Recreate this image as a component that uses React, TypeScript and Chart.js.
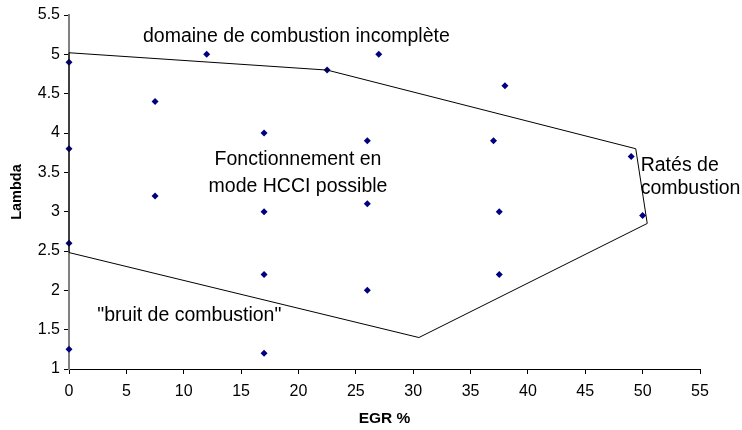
import React, { useEffect, useRef } from "react";
import { Chart, registerables } from "chart.js";

Chart.register(...registerables);

// Measured operating points
const pointsEGR = [0, 0, 0, 0, 7.5, 7.5, 12, 17, 17, 17, 17, 22.5, 26, 26, 26, 27, 37, 37.5, 37.5, 38, 49, 50];
const pointsLambda = [4.9, 3.8, 2.6, 1.25, 4.4, 3.2, 5.0, 4.0, 3.0, 2.2, 1.2, 4.8, 3.9, 3.1, 2.0, 5.0, 3.9, 3.0, 2.2, 4.6, 3.7, 2.95];

// Boundary of HCCI operating domain (closed polygon)
const boundaryEGR = [0, 22.5, 49.4, 50.4, 30.5, 0];
const boundaryLambda = [5.02, 4.8, 3.8, 2.85, 1.4, 2.48];

// Axis ticks
const xTicks = [0, 5, 10, 15, 20, 25, 30, 35, 40, 45, 50, 55];
const yTicks = [1, 1.5, 2, 2.5, 3, 3.5, 4, 4.5, 5, 5.5];

// Text annotations (anchored in data coordinates)
const noteTexts = [
  "domaine de combustion incomplète",
  "Fonctionnement en",
  "mode HCCI possible",
  "\"bruit de combustion\"",
  "Ratés de",
  "combustion",
];
const noteX = [6.45, 19.96, 19.96, 2.47, 49.83, 49.83];
const noteY = [5.22, 3.66, 3.315, 1.677, 3.58, 3.29];
const noteAlign: CanvasTextAlign[] = ["left", "center", "center", "left", "left", "left"];

const FONT = "'Liberation Sans', Arial, sans-serif";

export default function App() {
  const ref = useRef<HTMLCanvasElement | null>(null);

  useEffect(() => {
    if (!ref.current) return;
    const pts = pointsEGR.map((x, i) => ({ x, y: pointsLambda[i] }));
    const poly = boundaryEGR.map((x, i) => ({ x, y: boundaryLambda[i] }));
    poly.push({ x: boundaryEGR[0], y: boundaryLambda[0] });

    const notesPlugin = {
      id: "notes",
      afterDatasetsDraw(chart: any) {
        const ctx = chart.ctx;
        const xs = chart.scales.x;
        const ys = chart.scales.y;
        ctx.save();
        ctx.fillStyle = "#000";
        ctx.font = `19.5px ${FONT}`;
        ctx.textBaseline = "middle";
        noteTexts.forEach((t, i) => {
          ctx.textAlign = noteAlign[i];
          ctx.fillText(t, xs.getPixelForValue(noteX[i]), ys.getPixelForValue(noteY[i]));
        });
        ctx.restore();
      },
    };

    const chart = new Chart(ref.current, {
      type: "scatter",
      data: {
        datasets: [
          {
            label: "limite",
            data: poly,
            showLine: true,
            borderColor: "#000",
            borderWidth: 1,
            pointRadius: 0,
            fill: false,
            tension: 0,
            clip: false,
          },
          {
            label: "points",
            data: pts,
            pointStyle: "rectRot",
            pointRadius: 3.5,
            backgroundColor: "#000080",
            borderColor: "#000080",
            borderWidth: 0,
            clip: false,
          },
        ],
      },
      options: {
        animation: false,
        responsive: false,
        layout: { padding: { left: 6, top: 15, right: 42, bottom: 0 } },
        plugins: { legend: { display: false }, tooltip: { enabled: false } },
        scales: {
          x: {
            type: "linear",
            min: 0,
            max: 55,
            afterBuildTicks: (s: any) => {
              s.ticks = xTicks.map((v) => ({ value: v }));
            },
            afterFit: (s: any) => {
              s.height = 61;
            },
            ticks: {
              color: "#000",
              font: { family: FONT, size: 16 },
              padding: 8,
              maxRotation: 0,
              callback: (v: any) => String(v),
            },
            grid: {
              display: true,
              drawOnChartArea: false,
              drawTicks: true,
              tickLength: 5,
              color: "#000",
            },
            border: { display: true, color: "#000", width: 1 },
            title: {
              display: true,
              text: "EGR %",
              color: "#000",
              font: { family: FONT, size: 15.5, weight: "bold" },
              padding: { top: 0, bottom: 2 },
            },
          },
          y: {
            type: "linear",
            min: 1,
            max: 5.5,
            afterBuildTicks: (s: any) => {
              s.ticks = yTicks.map((v) => ({ value: v }));
            },
            afterFit: (s: any) => {
              s.width = 63;
            },
            ticks: {
              color: "#000",
              font: { family: FONT, size: 16 },
              padding: 4,
              callback: (v: any) => String(v),
            },
            grid: {
              display: true,
              drawOnChartArea: false,
              drawTicks: true,
              tickLength: 5,
              color: "#000",
            },
            border: { display: true, color: "#808080", width: 2 },
            title: {
              display: true,
              text: "Lambda",
              color: "#000",
              font: { family: FONT, size: 14.5, weight: "bold" },
              padding: { top: 2, bottom: 0 },
            },
          },
        },
      },
      plugins: [notesPlugin],
    } as any);

    return () => chart.destroy();
  }, []);

  return (
    <div style={{ position: "absolute", left: 0, top: 0, width: 742, height: 430, background: "#fff" }}>
      <canvas ref={ref} width={742} height={430} style={{ display: "block" }} />
    </div>
  );
}
